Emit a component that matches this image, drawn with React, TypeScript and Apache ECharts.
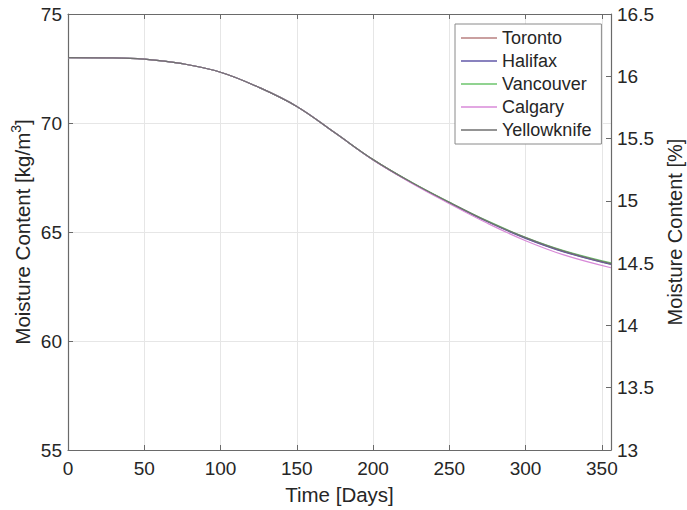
import React, { useEffect, useRef } from "react";
import * as echarts from "echarts";

const days = [0, 25, 50, 75, 100, 125, 150, 175, 200, 225, 250, 275, 300, 325, 356];
const toronto = [73.0, 72.99, 72.93, 72.72, 72.33, 71.64, 70.76, 69.55, 68.32, 67.28, 66.35, 65.48, 64.72, 64.1, 63.52];
const halifax = [73.0, 72.99, 72.93, 72.72, 72.33, 71.64, 70.76, 69.55, 68.31, 67.27, 66.34, 65.47, 64.71, 64.09, 63.51];
const vancouver = [73.0, 72.99, 72.93, 72.72, 72.33, 71.64, 70.76, 69.55, 68.32, 67.29, 66.37, 65.51, 64.76, 64.15, 63.58];
const calgary = [73.0, 72.99, 72.93, 72.72, 72.33, 71.64, 70.76, 69.55, 68.3, 67.25, 66.3, 65.4, 64.6, 63.95, 63.36];
const yellowknife = [73.0, 72.99, 72.93, 72.72, 72.33, 71.64, 70.76, 69.55, 68.32, 67.28, 66.36, 65.49, 64.74, 64.12, 63.55];

const seriesNames = ["Toronto", "Halifax", "Vancouver", "Calgary", "Yellowknife"];
const seriesData = [toronto, halifax, vancouver, calgary, yellowknife];
const seriesColors = ["#b88080", "#6258a8", "#6cc46c", "#d88ad8", "#707070"];

const FONT = "'Liberation Sans', Arial, Helvetica, sans-serif";
const TEXT = "#262626";
const AXIS = "#6a6a6a";

export default function App() {
  const ref = useRef<HTMLDivElement>(null);

  useEffect(() => {
    if (!ref.current) return;
    const chart = echarts.init(ref.current, undefined, { renderer: "svg" });
    const tickLabel = { fontFamily: FONT, fontSize: 19, color: TEXT };
    const option: any = {
      animation: false,
      backgroundColor: "#ffffff",
      textStyle: { fontFamily: FONT, color: TEXT },
      grid: {
        left: 68,
        top: 14,
        width: 543,
        height: 436,
        containLabel: false,
        outerBoundsMode: "none",
      },
      legend: {
        orient: "vertical",
        left: 455,
        top: 24,
        data: seriesNames,
        icon: "rect",
        itemWidth: 36,
        itemHeight: 1.5,
        itemGap: 5,
        padding: [5, 10, 5, 6],
        borderColor: "#8a8a8a",
        borderWidth: 1,
        backgroundColor: "#ffffff",
        textStyle: { fontFamily: FONT, fontSize: 18, lineHeight: 18, color: TEXT },
      },
      xAxis: [
        {
          type: "value",
          min: 0,
          max: 356,
          interval: 50,
          name: "Time [Days]",
          nameLocation: "middle",
          nameGap: 34,
          nameTextStyle: { fontFamily: FONT, fontSize: 20.5, color: TEXT },
          axisLine: { show: true, onZero: false, lineStyle: { color: AXIS, width: 1.2 } },
          axisTick: { show: true, inside: true, length: 5, lineStyle: { color: AXIS } },
          axisLabel: { ...tickLabel, margin: 9, showMaxLabel: false },
          splitLine: { show: true, lineStyle: { color: "#e6e6e6", width: 1 } },
        },
        {
          type: "value",
          position: "top",
          min: 0,
          max: 356,
          interval: 50,
          axisLine: { show: true, onZero: false, lineStyle: { color: AXIS, width: 1.2 } },
          axisTick: { show: true, inside: true, length: 5, lineStyle: { color: AXIS } },
          axisLabel: { show: false },
          splitLine: { show: false },
        },
      ],
      yAxis: [
        {
          type: "value",
          min: 55,
          max: 75,
          interval: 5,
          name: "Moisture Content [kg/m{sup|3}]",
          nameLocation: "middle",
          nameGap: 33,
          nameMoveOverlap: false,
          nameRotate: 90,
          nameTextStyle: {
            fontFamily: FONT,
            fontSize: 20.5,
            lineHeight: 26,
            color: TEXT,
            rich: {
              sup: { fontFamily: FONT, fontSize: 14, lineHeight: 14, verticalAlign: "top", color: TEXT },
            },
          },
          axisLine: { show: true, onZero: false, lineStyle: { color: AXIS, width: 1.2 } },
          axisTick: { show: true, inside: true, length: 5, lineStyle: { color: AXIS } },
          axisLabel: { ...tickLabel, margin: 6 },
          splitLine: { show: true, lineStyle: { color: "#e6e6e6", width: 1 } },
        },
        {
          type: "value",
          position: "right",
          min: 13,
          max: 16.5,
          interval: 0.5,
          name: "Moisture Content [%]",
          nameLocation: "middle",
          nameGap: 53,
          nameRotate: 90,
          nameTextStyle: { fontFamily: FONT, fontSize: 20, color: TEXT },
          axisLine: { show: true, onZero: false, lineStyle: { color: AXIS, width: 1.2 } },
          axisTick: { show: true, inside: true, length: 5, lineStyle: { color: AXIS } },
          axisLabel: { ...tickLabel, margin: 6 },
          splitLine: { show: false },
        },
      ],
      series: seriesNames.map((name, i) => ({
        name,
        type: "line",
        xAxisIndex: 0,
        yAxisIndex: 0,
        smooth: 0.4,
        showSymbol: false,
        symbol: "none",
        lineStyle: { color: seriesColors[i], width: 1.2 },
        itemStyle: { color: seriesColors[i] },
        data: days.map((d, j) => [d, seriesData[i][j]]),
      })),
    };
    chart.setOption(option);
    return () => chart.dispose();
  }, []);

  return (
    <div
      ref={ref}
      style={{ position: "fixed", left: 0, top: 0, width: 687, height: 510, background: "#fff" }}
    />
  );
}
